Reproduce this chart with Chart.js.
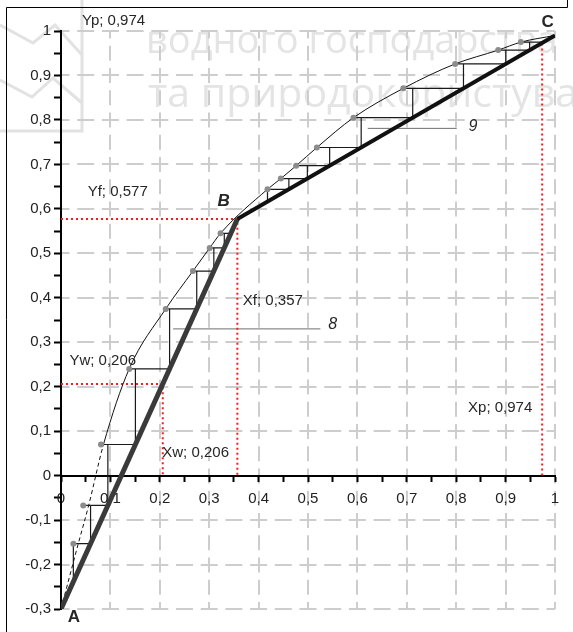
<!DOCTYPE html>
<html>
<head>
<meta charset="utf-8">
<script src="https://cdn.jsdelivr.net/npm/chart.js@4.4.0/dist/chart.umd.min.js"></script>
<style>
  html, body { margin: 0; padding: 0; background: #fff; }
  #wrap { position: relative; width: 573px; height: 632px; }
</style>
</head>
<body>
<div id="wrap"><canvas id="myChart"></canvas></div>
<script>
// робоча лінія A - B - C
var opX = [0, 0.357, 1];
var opY = [-0.3, 0.577, 0.99];

// точки на рівноважній кривій (сірі маркери), нижня і верхня частина
var lowX = [0.025, 0.045, 0.081, 0.138, 0.212, 0.267, 0.301, 0.323];
var lowY = [-0.153, -0.067, 0.07, 0.24, 0.375, 0.46, 0.512, 0.545];
var upX = [0.418, 0.445, 0.476, 0.518, 0.592, 0.693, 0.798, 0.885, 0.931];
var upY = [0.644, 0.668, 0.697, 0.738, 0.805, 0.871, 0.926, 0.957, 0.975];

// сама крива (тонка лінія), нижня частина пунктиром
var eqX = [0, 0.035, 0.056, 0.086, 0.138, 0.212, 0.267, 0.301, 0.323, 0.418, 0.445, 0.476, 0.518, 0.592, 0.693, 0.798, 0.885, 0.931, 1];
var eqY = [-0.3, -0.153, -0.067, 0.07, 0.24, 0.375, 0.46, 0.512, 0.545, 0.644, 0.668, 0.697, 0.738, 0.805, 0.871, 0.926, 0.957, 0.975, 0.99];

var xw = 0.206, yw = 0.206;
var xf = 0.357, yf = 0.577;
var xp = 0.974, yp = 0.974;

function fmt(v) {
  return String(Math.round(v * 1000) / 1000).replace(".", ",");
}
function isMajor(v) {
  return Math.round(v * 20) % 2 === 0;
}
// y на робочій лінії для x
function opAtX(x) {
  for (var i = 1; i < opX.length; i++) {
    if (x <= opX[i]) return opY[i - 1] + (x - opX[i - 1]) * (opY[i] - opY[i - 1]) / (opX[i] - opX[i - 1]);
  }
  return opY[opY.length - 1];
}
// x на робочій лінії для y
function opAtY(y) {
  for (var i = 1; i < opY.length; i++) {
    if (y <= opY[i]) return opX[i - 1] + (y - opY[i - 1]) * (opX[i] - opX[i - 1]) / (opY[i] - opY[i - 1]);
  }
  return opX[opX.length - 1];
}

// ступені: вертикаль від робочої лінії до кривої, горизонталь від кривої до робочої лінії
function stairs(xs, ys) {
  var pts = [];
  for (var i = 0; i < xs.length; i++) {
    var vx = i === 0 ? xs[0] : opAtY(ys[i - 1]);
    var vy = i === 0 ? opAtX(xs[0]) : ys[i - 1];
    pts.push({ x: vx, y: vy }, { x: vx, y: ys[i] }, { x: vx, y: null });
    pts.push({ x: xs[i], y: ys[i] }, { x: opAtY(ys[i]), y: ys[i] }, { x: xs[i], y: null });
  }
  return pts;
}

var curve = eqX.map(function (x, i) { return { x: x, y: eqY[i] }; });
var opLine = opX.map(function (x, i) { return { x: x, y: opY[i] }; });
var marks = lowX.concat(upX).map(function (x, i) { return { x: x, y: lowY.concat(upY)[i] }; });

var redLines = [
  { x: 0, y: yw }, { x: xw, y: yw }, { x: xw, y: 0 }, { x: xw, y: null },
  { x: 0, y: yf }, { x: xf, y: yf }, { x: xf, y: 0 }, { x: xf, y: null },
  { x: xp, y: 0 }, { x: xp, y: opAtX(xp) }
];

// виноски 8 і 9
var leaders = [
  { x: 0.227, y: 0.33 }, { x: 0.525, y: 0.33 }, { x: 0.525, y: null },
  { x: 0.621, y: 0.781 }, { x: 0.801, y: 0.781 }
];

var lab = "15px 'Liberation Sans'";
var notes = [
  { t: "Yp; " + fmt(yp), x: 0.0425, y: 1.0225, f: lab, a: "left" },
  { t: "Yf; " + fmt(yf), x: 0.054, y: 0.639, f: lab, a: "left" },
  { t: "Yw; " + fmt(yw), x: 0.017, y: 0.257, f: lab, a: "left" },
  { t: "Xw; " + fmt(xw), x: 0.205, y: 0.051, f: lab, a: "left" },
  { t: "Xf; " + fmt(xf), x: 0.368, y: 0.392, f: lab, a: "left" },
  { t: "Xp; " + fmt(xp), x: 0.824, y: 0.152, f: lab, a: "left" },
  { t: "A", x: 0.026, y: -0.318, f: "bold 17px 'Liberation Sans'", a: "center" },
  { t: "B", x: 0.329, y: 0.616, f: "italic bold 17px 'Liberation Sans'", a: "center" },
  { t: "C", x: 0.985, y: 1.019, f: "bold 17px 'Liberation Sans'", a: "center" },
  { t: "8", x: 0.55, y: 0.339, f: "italic 16px 'Liberation Sans'", a: "center" },
  { t: "9", x: 0.834, y: 0.785, f: "italic 16px 'Liberation Sans'", a: "center" }
];

var backdrop = {
  id: "backdrop",
  beforeDraw: function (chart) {
    var ctx = chart.ctx;
    var sx = chart.scales.x, sy = chart.scales.y, area = chart.chartArea;
    ctx.save();
    ctx.strokeStyle = "#e2e2e2";
    ctx.lineWidth = 3;
    ctx.beginPath();
    ctx.moveTo(0, 25); ctx.lineTo(33, 43); ctx.lineTo(55, 25); ctx.lineTo(82, 55);
    ctx.moveTo(0, 80); ctx.lineTo(32, 97); ctx.lineTo(53, 78); ctx.lineTo(82, 103);
    ctx.moveTo(82, 0); ctx.lineTo(82, 131); ctx.lineTo(0, 131);
    ctx.stroke();
    ctx.fillStyle = "#e4e4e4";
    ctx.textBaseline = "alphabetic";
    ctx.font = "38px 'Open Sans'";
    ctx.fillText("водного господарства", 146, 53);
    ctx.font = "41px 'Open Sans'";
    ctx.fillText("та природокористування", 148, 107);

    // пунктирна сітка
    ctx.strokeStyle = "#cdcdcd";
    ctx.lineWidth = 2;
    ctx.setLineDash([15, 7.25]);
    ctx.lineDashOffset = 7.5;
    sx.ticks.forEach(function (t) {
      if (!isMajor(t.value)) return;
      var px = Math.round(sx.getPixelForValue(t.value));
      ctx.beginPath(); ctx.moveTo(px, area.top); ctx.lineTo(px, area.bottom); ctx.stroke();
    });
    ctx.setLineDash([17, 7.7]);
    ctx.lineDashOffset = 8.5;
    sy.ticks.forEach(function (t) {
      if (!isMajor(t.value)) return;
      var py = Math.round(sy.getPixelForValue(t.value));
      ctx.beginPath(); ctx.moveTo(area.left, py); ctx.lineTo(area.right, py); ctx.stroke();
    });
    ctx.restore();
  },
  afterDraw: function (chart) {
    var ctx = chart.ctx;
    var sx = chart.scales.x, sy = chart.scales.y;
    ctx.save();
    notes.forEach(function (n) {
      ctx.font = n.f;
      ctx.fillStyle = "#262626";
      ctx.textAlign = n.a;
      ctx.textBaseline = "middle";
      ctx.fillText(n.t, sx.getPixelForValue(n.x), sy.getPixelForValue(n.y));
    });
    ctx.strokeStyle = "#000";
    ctx.lineWidth = 1;
    ctx.beginPath();
    ctx.moveTo(6.5, 632); ctx.lineTo(6.5, 7.5); ctx.lineTo(567.5, 7.5); ctx.lineTo(567.5, 0);
    ctx.stroke();
    ctx.restore();
  }
};

new Chart("myChart", {
  type: "scatter",
  data: {
    datasets: [
      {
        data: opLine, showLine: true, borderColor: "#111", borderWidth: 4,
        pointRadius: 0, order: 1,
        segment: {
          borderColor: function (c) { return c.p1.parsed.x <= xf + 0.001 ? "#3a3a3a" : undefined; },
          borderWidth: function (c) { return c.p1.parsed.x <= xf + 0.001 ? 5 : undefined; }
        }
      },
      {
        data: marks, showLine: false, pointRadius: 3, pointBackgroundColor: "#8c8c8c",
        pointBorderColor: "#8c8c8c", pointBorderWidth: 0, order: 0
      },
      {
        data: curve, showLine: true, borderColor: "#111", borderWidth: 1, pointRadius: 0,
        cubicInterpolationMode: "monotone", order: 3,
        segment: {
          borderDash: function (c) { return c.p1.parsed.y <= 0.071 ? [4, 3] : undefined; }
        }
      },
      {
        data: stairs(lowX, lowY).concat([{ x: 0.4, y: null }]).concat(stairs(upX, upY)),
        showLine: true, borderColor: "#1a1a1a", borderWidth: 1.2, pointRadius: 0, order: 2
      },
      {
        data: redLines, showLine: true, borderColor: "#ff1a1a", borderWidth: 2,
        borderDash: [2, 3], pointRadius: 0, order: 4
      },
      {
        data: leaders, showLine: true, borderColor: "#6e6e6e", borderWidth: 1,
        pointRadius: 0, order: 5
      }
    ]
  },
  options: {
    responsive: true,
    maintainAspectRatio: false,
    animation: false,
    events: [],
    layout: { padding: { left: 0, right: 18, top: 31, bottom: 23 } },
    plugins: { legend: { display: false }, tooltip: { enabled: false } },
    scales: {
      x: {
        type: "linear", min: 0, max: 1, position: { y: 0 },
        border: { display: true, color: "#000", width: 2 },
        grid: { drawOnChartArea: false, tickColor: "#000", tickWidth: 2, tickLength: 5 },
        ticks: {
          stepSize: 0.05, autoSkip: false, maxRotation: 0, padding: 9,
          color: "#222", font: { family: "'Liberation Sans'", size: 15 },
          callback: function (v) { return isMajor(v) ? fmt(v) : ""; }
        }
      },
      y: {
        type: "linear", min: -0.3, max: 1, position: "left",
        afterFit: function (s) { s.width = 61; },
        border: { display: true, color: "#000", width: 2 },
        grid: { drawOnChartArea: false, tickColor: "#000", tickWidth: 2, tickLength: 7 },
        ticks: {
          stepSize: 0.05, autoSkip: false, padding: 3,
          color: "#222", font: { family: "'Liberation Sans'", size: 15 },
          callback: function (v) { return isMajor(v) ? fmt(v) : ""; }
        }
      }
    }
  },
  plugins: [backdrop]
});
</script>
</body>
</html>
